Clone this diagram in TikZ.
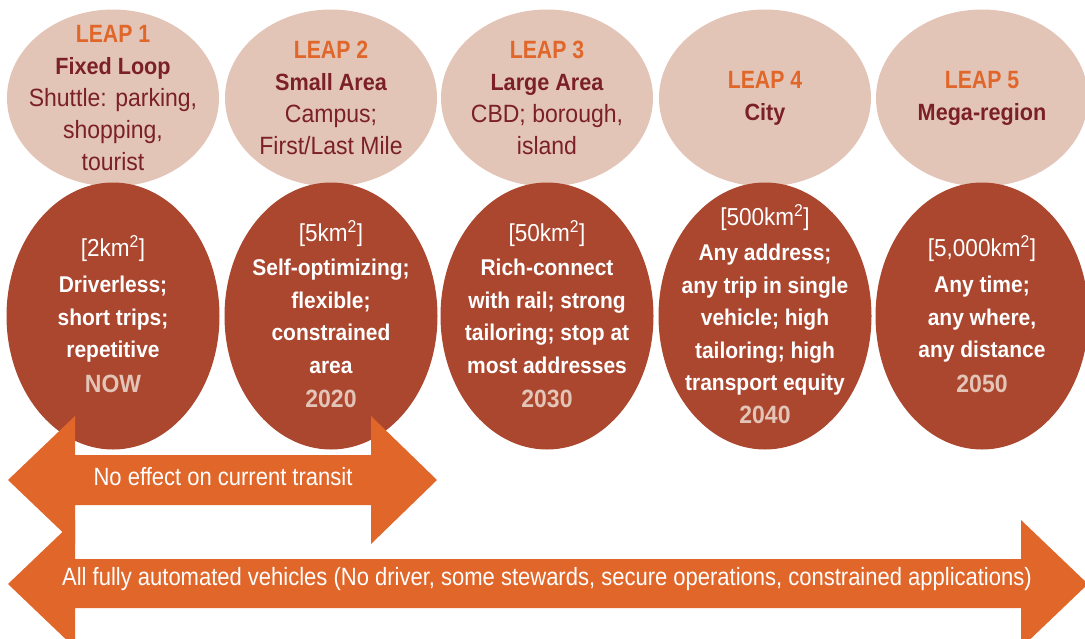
\documentclass[tikz,border=0pt]{standalone}
\usepackage{fontspec}
\setmainfont[FakeStretch=0.92]{Liberation Sans}
\newfontfamily\condfont[FakeStretch=0.88]{Liberation Sans}
\newfontfamily\leapfont[FakeStretch=0.85]{Liberation Sans}
\usetikzlibrary{shapes.geometric}
\definecolor{lightpink}{HTML}{E3C5B8}
\definecolor{brick}{HTML}{AB462F}
\definecolor{arroworange}{HTML}{E0662A}
\definecolor{maroon}{HTML}{7A2026}
\newcommand\LeapTxt[1]{{\leapfont\bfseries\color{arroworange}\fontsize{25}{32}\selectfont#1}}
\newcommand\TitleTxt[1]{{\bfseries\fontsize{23.5}{32}\selectfont #1}}
\newcommand\KmTxt[1]{{\mdseries\fontsize{24.5}{32}\selectfont #1}}
\newcommand\YearTxt[1]{{\color{lightpink}\fontsize{25}{32}\selectfont #1}}
\begin{document}
\begin{tikzpicture}[x=1pt,y=-1pt,
  light/.style={ellipse, fill=lightpink, minimum width=212pt, minimum height=177pt, inner sep=0pt},
  dark/.style={ellipse, fill=brick, minimum width=213pt, minimum height=267pt, inner sep=0pt},
  toptext/.style={align=center, text=maroon, inner sep=0pt, font=\fontsize{25}{32}\selectfont},
  bottext/.style={align=center, text=white, inner sep=0pt, yshift=2pt, font=\fontsize{22.8}{32.5}\selectfont\bfseries},
  arrowfill/.style={fill=arroworange},
  arrowtext/.style={text=white, inner sep=0pt, anchor=base, font=\condfont\fontsize{25}{28}\selectfont}]
\useasboundingbox (0,0) rectangle (1085,638);
\clip (0,0) rectangle (1085,638);
% top ellipses
\node[light] (L1) at (113,98) {};
\node[light] (L2) at (331,98) {};
\node[light] (L3) at (547,98) {};
\node[light] (L4) at (765,98) {};
\node[light] (L5) at (982,98) {};
% bottom ellipses
\node[dark] (D1) at (113,316) {};
\node[dark] (D2) at (331,316) {};
\node[dark] (D3) at (547,316) {};
\node[dark] (D4) at (765,316) {};
\node[dark] (D5) at (982,316) {};
% top texts
\node[toptext] (T1) at (L1.center) {\LeapTxt{LEAP 1}\\\TitleTxt{Fixed Loop}\\Shuttle: parking,\\shopping,\\tourist};
\node[toptext] (T2) at (L2.center) {\LeapTxt{LEAP 2}\\\TitleTxt{Small Area}\\Campus;\\First/Last Mile};
\node[toptext] (T3) at (L3.center) {\LeapTxt{LEAP 3}\\\TitleTxt{Large Area}\\CBD; borough,\\island};
\node[toptext] (T4) at (L4.center) {\LeapTxt{LEAP 4}\\\TitleTxt{City}};
\node[toptext] (T5) at (L5.center) {\LeapTxt{LEAP 5}\\\TitleTxt{Mega-region}};
% bottom texts
\node[bottext] (B1) at (D1.center) {\KmTxt{[2km\textsuperscript{2}]}\\[4pt]Driverless;\\short trips;\\repetitive\\[2pt]\YearTxt{NOW}};
\node[bottext] (B2) at (D2.center) {\KmTxt{[5km\textsuperscript{2}]}\\[2pt]Self-optimizing;\\flexible;\\constrained\\area\\[2pt]\YearTxt{2020}};
\node[bottext] (B3) at (D3.center) {\KmTxt{[50km\textsuperscript{2}]}\\[2pt]Rich-connect\\with rail; strong\\tailoring; stop at\\most addresses\\[2pt]\YearTxt{2030}};
\node[bottext] (B4) at (D4.center) {\KmTxt{[500km\textsuperscript{2}]}\\[3pt]Any address;\\any trip in single\\vehicle; high\\tailoring; high\\transport equity\\\YearTxt{2040}};
\node[bottext] (B5) at (D5.center) {\KmTxt{[5,000km\textsuperscript{2}]}\\[4pt]Any time;\\any where,\\any distance\\[2pt]\YearTxt{2050}};
% arrows
\fill[arrowfill] (8,480) -- (75,416) -- (75,455) -- (371,455) -- (371,416) -- (437,480)
  -- (371,544) -- (371,505) -- (75,505) -- (75,544) -- cycle;
\fill[arrowfill] (8,584) -- (75,520) -- (75,559) -- (1021,559) -- (1021,520) -- (1088,584)
  -- (1021,648) -- (1021,608) -- (75,608) -- (75,648) -- cycle;
\node[arrowtext] (A1) at (223,485) {No effect on current transit};
\node[arrowtext] (A2) at (547,585) {All fully automated vehicles (No driver, some stewards, secure operations, constrained applications)};
\end{tikzpicture}
\end{document}
